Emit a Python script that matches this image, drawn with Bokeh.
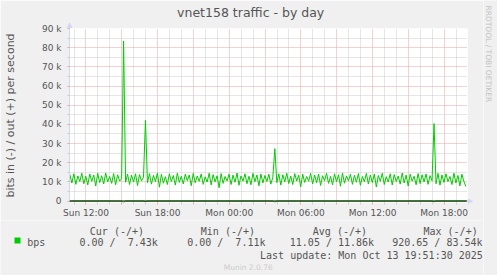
import numpy as np
from bokeh.plotting import figure
from bokeh.layouts import row, column
from bokeh.models import Range1d, FixedTicker, Span, Label
from bokeh.embed import file_html
from bokeh.resources import INLINE

# ---------------- data ----------------
# hours since Sun 00:00, 10-minute samples
start_hour = 10.65
step_hours = 10.0 / 60.0

# out (+) traffic, kbit/s
out_kbps = [
    13.8, 9.4, 14.2, 8.7, 13.1, 10.2, 14.5, 9.0, 12.9, 8.4,
    14.1, 10.3, 13.6, 7.8, 14.4, 9.6, 13.2, 8.9, 14.6, 10.0,
    12.8, 9.2, 14.3, 8.5, 13.7, 10.4, 11.6, 83.5, 9.8, 14.0,
    8.6, 13.5, 9.9, 14.2, 8.1, 13.8, 10.5, 12.4, 42.1, 9.5,
    14.3, 8.8, 13.4, 10.1, 14.6, 7.2, 13.9, 9.3, 12.7, 8.6,
    14.2, 10.2, 13.3, 8.3, 14.5, 9.7, 12.9, 8.9, 14.0, 10.6,
    13.6, 8.0, 14.4, 9.5, 13.0, 10.3, 14.1, 8.7, 12.6, 9.9,
    14.5, 8.4, 13.8, 10.0, 13.2, 6.9, 14.3, 9.2, 12.8, 10.5,
    14.0, 8.6, 13.5, 9.8, 14.6, 8.2, 13.1, 10.4, 14.2, 9.0,
    12.9, 8.5, 14.4, 10.1, 13.6, 7.9, 14.1, 9.4, 13.3, 10.2,
    14.0, 8.8, 12.4, 27.3, 9.6, 14.2, 8.3, 13.7, 10.0, 14.5,
    9.1, 13.0, 8.6, 14.3, 10.4, 13.5, 7.4, 14.0, 9.7, 12.8,
    10.3, 14.4, 8.9, 13.6, 9.5, 14.1, 8.1, 13.2, 10.6, 14.5,
    9.2, 12.9, 8.4, 14.2, 10.0, 13.7, 7.7, 14.6, 9.3, 13.1,
    10.5, 14.0, 8.7, 13.4, 9.8, 14.3, 8.2, 12.8, 10.1, 14.4,
    8.9, 13.6, 9.6, 14.1, 7.3, 13.3, 10.3, 14.5, 8.6, 12.7,
    9.9, 14.2, 8.4, 13.8, 10.2, 13.0, 8.8, 14.6, 9.4, 13.5,
    7.8, 14.0, 10.4, 12.9, 8.5, 14.3, 9.1, 13.7, 10.0, 14.1,
    8.7, 13.2, 10.6, 40.4, 9.0, 14.4, 8.3, 13.6, 9.7, 14.2,
    10.1, 12.8, 8.6, 14.5, 9.4, 13.3, 7.9, 14.0, 10.2, 7.6,
]

# in (-) traffic, kbit/s (drawn below zero)
in_kbps = [
    0, 0, 0, 0, 0, 0, 0, 0, 0, 0,
    0, 0, 0, 0, 0, 0, 0, 0, 0, 0,
    0, 0, 0, 0, 0, 0, 0, 0.92, 0, 0,
    0, 0, 0, 0, 0, 0, 0, 0, 0.45, 0,
    0, 0, 0, 0, 0, 0, 0, 0, 0, 0,
    0, 0, 0, 0, 0, 0, 0, 0, 0, 0,
    0, 0, 0, 0, 0, 0, 0, 0, 0, 0,
    0, 0, 0, 0, 0, 0, 0, 0, 0, 0,
    0, 0, 0, 0, 0, 0, 0, 0, 0, 0,
    0, 0, 0, 0, 0, 0, 0, 0, 0, 0,
    0, 0, 0, 0.7, 0, 0, 0, 0, 0, 0,
    0, 0, 0, 0, 0, 0, 0, 0, 0, 0,
    0, 0, 0, 0, 0, 0, 0, 0, 0, 0,
    0, 0, 0, 0, 0, 0, 0, 0, 0, 0,
    0, 0, 0, 0, 0, 0, 0, 0, 0, 0,
    0, 0, 0, 0, 0, 0, 0, 0, 0, 0,
    0, 0, 0, 0, 0, 0, 0, 0, 0, 0,
    0, 0, 0, 0, 0, 0, 0, 0, 0, 0,
    0, 0, 0, 0.5, 0, 0, 0, 0, 0, 0,
    0, 0, 0, 0, 0, 0, 0, 0, 0, 0,
]

x_major_ticks = [12, 15, 18, 21, 24, 27, 30, 33, 36, 39, 42]
x_minor_ticks = [11, 13, 14, 16, 17, 19, 20, 22, 23, 25, 26, 28, 29, 31, 32,
                 34, 35, 37, 38, 40, 41, 43]
x_tick_labels = {12: "Sun 12:00", 18: "Sun 18:00", 24: "Mon 00:00",
                 30: "Mon 06:00", 36: "Mon 12:00", 42: "Mon 18:00"}
y_major_ticks = [0, 10, 20, 30, 40, 50, 60, 70, 80, 90]
y_minor_ticks = [5, 15, 25, 35, 45, 55, 65, 75, 85]
y_tick_labels = ["0", "10 k", "20 k", "30 k", "40 k", "50 k", "60 k",
                 "70 k", "80 k", "90 k"]

title_text = "vnet158 traffic - by day"
y_axis_title = "bits in (-) / out (+) per second"
series_name = "bps"
legend_headers = ["Cur (-/+)", "Min (-/+)", "Avg (-/+)", "Max (-/+)"]
legend_values = ["0.00 /\u00a0 7.43k", "0.00 /\u00a0 7.11k", "11.05 / 11.86k",
                 "920.65 / 83.54k"]
last_update = "Last update: Mon Oct 13 19:51:30 2025"
side_text = "RRDTOOL / TOBI OETIKER"
footer_text = "Munin 2.0.76"

# ---------------- layout ----------------
W, H = 497, 275
MAIN_W, MAIN_H = 483, 220
FL, FR, FT, FB = 67, 467, 28, 203
X0, X1 = 10.62, 10.62 + 400.0 / 12.0
Y0, Y1 = -0.78, 90.0

def sx(px):
    return X0 + (px - FL) / (FR - FL) * (X1 - X0)

def sy(py):
    return Y1 - (py - FT) / (FB - FT) * (Y1 - Y0)

GREEN = "#00CC00"
FONT_C = "#555555"
AXIS_C = "#CFD6F8"
MGRID_C = "#E8A4A4"
GRID_C = "#CCCCCC"
BACK = "#F0F0F0"
MONO = "DejaVu Sans Mono"

times = start_hour + step_hours * np.arange(len(out_kbps))
out_arr = np.array(out_kbps, dtype=float)
in_arr = -np.array(in_kbps, dtype=float)

# ---------- main chart ----------
p = figure(width=MAIN_W, height=MAIN_H, output_backend="svg", toolbar_location=None,
           x_range=Range1d(X0, X1), y_range=Range1d(Y0, Y1),
           min_border_left=FL, min_border_right=MAIN_W - FR,
           min_border_top=FT, min_border_bottom=MAIN_H - FB)
p.background_fill_color = "white"
p.border_fill_color = BACK
p.outline_line_color = None

p.title.text = title_text
p.title.align = "left"
p.title.offset = 248.3 - 147.4 / 2 - FL
p.title.standoff = 2
p.title.text_font = "DejaVu Sans"
p.title.text_font_size = "12.5px"
p.title.text_font_style = "normal"
p.title.text_color = FONT_C

p.xgrid.ticker = FixedTicker(ticks=x_major_ticks, minor_ticks=x_minor_ticks)
p.ygrid.ticker = FixedTicker(ticks=y_major_ticks, minor_ticks=y_minor_ticks)
for g in (p.xgrid, p.ygrid):
    g.grid_line_color = MGRID_C
    g.grid_line_dash = "1 1"
    g.grid_line_width = 1
    g.minor_grid_line_color = GRID_C
    g.minor_grid_line_dash = "1 1"
    g.minor_grid_line_width = 1

xa = p.xaxis[0]
xa.ticker = FixedTicker(ticks=x_major_ticks, minor_ticks=x_minor_ticks)
xa.major_label_overrides = {t: x_tick_labels.get(t, "") for t in x_major_ticks}
xa.axis_line_color = None
xa.major_tick_line_color = MGRID_C
xa.minor_tick_line_color = GRID_C
xa.major_tick_in = 0
xa.major_tick_out = 2
xa.minor_tick_in = 0
xa.minor_tick_out = 2
xa.major_label_standoff = 3

ya = p.yaxis[0]
ya.ticker = FixedTicker(ticks=y_major_ticks, minor_ticks=y_minor_ticks)
ya.major_label_overrides = dict(zip(y_major_ticks, y_tick_labels))
ya.axis_line_color = AXIS_C
ya.major_tick_line_color = MGRID_C
ya.minor_tick_line_color = GRID_C
ya.major_tick_in = 0
ya.major_tick_out = 2
ya.minor_tick_in = 0
ya.minor_tick_out = 2
ya.major_label_standoff = 6
ya.axis_label = y_axis_title
ya.axis_label_text_font_size = "11px"
ya.axis_label_text_font_style = "normal"
ya.axis_label_text_color = FONT_C
ya.axis_label_text_font = "DejaVu Sans"
ya.axis_label_standoff = 22

for ax in (xa, ya):
    ax.major_label_text_font = "DejaVu Sans"
    ax.major_label_text_font_size = "9px"
    ax.major_label_text_color = FONT_C

p.line(times, in_arr, line_color=GREEN, line_width=1)
p.line(times, out_arr, line_color=GREEN, line_width=1)
p.add_layout(Span(location=0, dimension="width", line_color="black", line_width=1))

# axis arrow heads (outside the frame, in side panels)
p.add_layout(Label(x=X0, y=sy(24), text="\u25B2", text_align="center",
                   text_baseline="middle", text_font="DejaVu Sans",
                   text_font_size="7px", text_color=AXIS_C), "above")
p.add_layout(Label(x=sx(470), y=0, text="\u25B6", text_align="center",
                   text_baseline="middle", text_font="DejaVu Sans",
                   text_font_size="7px", text_color=AXIS_C), "right")

# ---------- legend strip ----------
leg = figure(width=MAIN_W, height=H - MAIN_H, output_backend="svg",
             toolbar_location=None, x_axis_type=None, y_axis_type=None,
             x_range=Range1d(0, MAIN_W), y_range=Range1d(H, MAIN_H),
             min_border_left=0, min_border_right=0, min_border_top=0,
             min_border_bottom=0)
leg.background_fill_color = BACK
leg.border_fill_color = BACK
leg.outline_line_color = None
leg.grid.visible = False

leg.rect(x=[17], y=[240], width=6, height=6, fill_color=GREEN, line_color=None)

header_x = [89.3, 200.3, 312.3, 423.0]
value_x = [79.0, 186.7, 289.3, 391.7]
for hx, htxt in zip(header_x, legend_headers):
    leg.add_layout(Label(x=hx, y=230.5, text=htxt, text_align="left",
                         text_baseline="alphabetic", text_font=MONO,
                         text_font_size="10px", text_color=FONT_C))
for vx, vtxt in zip(value_x, legend_values):
    leg.add_layout(Label(x=vx, y=242, text=vtxt, text_align="left",
                         text_baseline="alphabetic", text_font=MONO,
                         text_font_size="10px", text_color=FONT_C))
leg.add_layout(Label(x=26.7, y=242, text=series_name, text_align="left",
                     text_baseline="alphabetic", text_font=MONO,
                     text_font_size="10px", text_color=FONT_C))
leg.add_layout(Label(x=482.3, y=254.5, text=last_update, text_align="right",
                     text_baseline="alphabetic", text_font=MONO,
                     text_font_size="10px", text_color=FONT_C))
leg.add_layout(Label(x=247.7, y=266.5, text=footer_text, text_align="center",
                     text_baseline="alphabetic", text_font="DejaVu Sans",
                     text_font_size="7.5px", text_color="#CCCCCC"))

# ---------- right watermark strip ----------
side = figure(width=W - MAIN_W, height=H, output_backend="svg",
              toolbar_location=None, x_axis_type=None, y_axis_type=None,
              x_range=Range1d(MAIN_W, W), y_range=Range1d(H, 0),
              min_border_left=0, min_border_right=0, min_border_top=0,
              min_border_bottom=0)
side.background_fill_color = BACK
side.border_fill_color = BACK
side.outline_line_color = None
side.grid.visible = False
side.add_layout(Label(x=488, y=5, text=side_text, angle=-np.pi / 2,
                      text_align="left", text_baseline="middle",
                      text_font="DejaVu Sans", text_font_size="7.5px",
                      text_color="#C4C4C4"))

layout = row(column(row(p), row(leg), spacing=0), side, spacing=0)
open("out.html", "w").write(file_html(layout, INLINE))
